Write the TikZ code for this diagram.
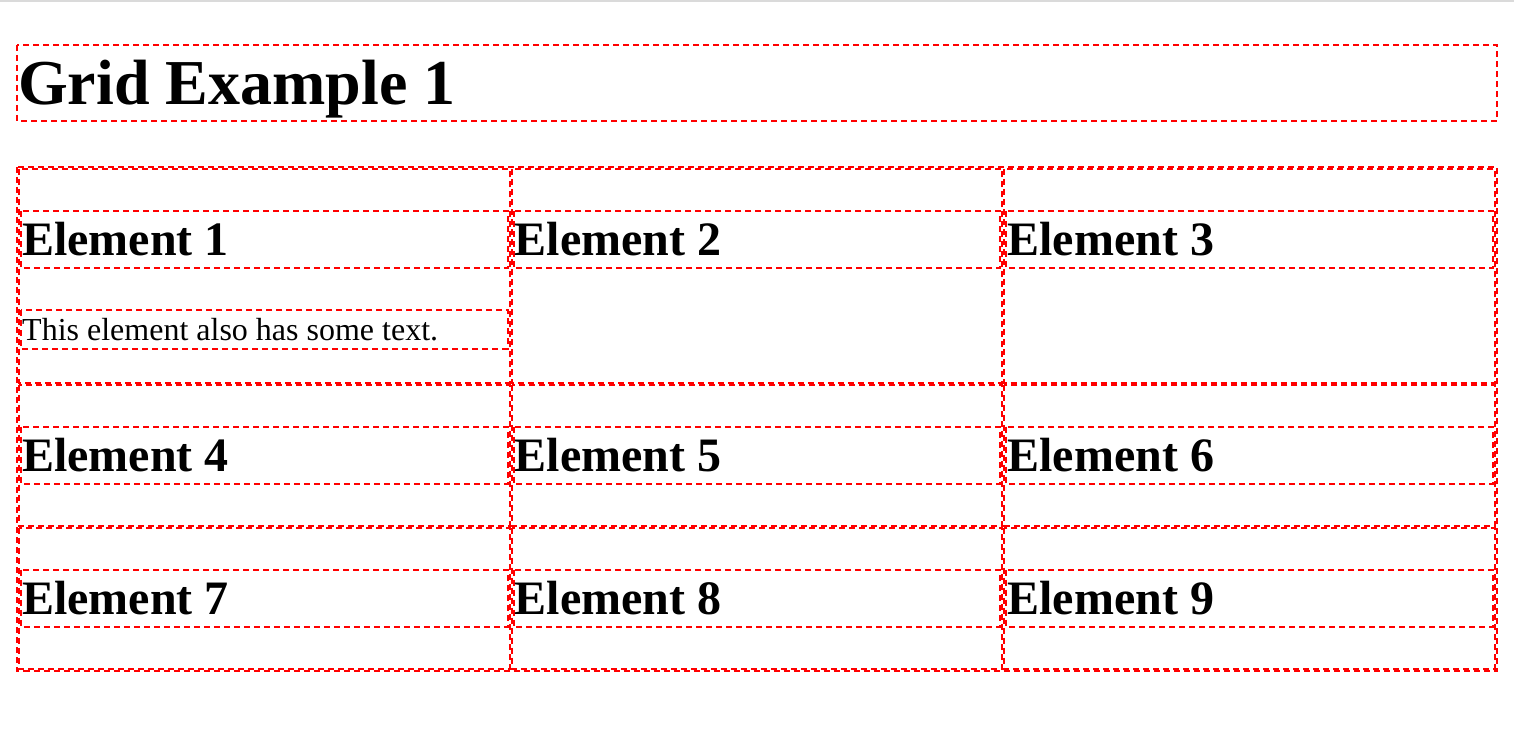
\documentclass[tikz,border=0pt]{standalone}
\usepackage{fontspec}
\setmainfont{Liberation Serif}
\definecolor{topgray}{RGB}{218,218,218}
\begin{document}
\begin{tikzpicture}[x=1pt,y=-1pt,
  brd/.style={draw=red,line width=2pt,dash pattern=on 6pt off 4pt},
  titletext/.style={anchor=base west,inner sep=0pt,font=\fontsize{64}{74}\selectfont\bfseries},
  htext/.style={anchor=base west,inner sep=0pt,font=\fontsize{48}{55}\selectfont\bfseries},
  ptext/.style={anchor=base west,inner sep=0pt,font=\fontsize{32}{37}\selectfont}]
\useasboundingbox (0,0) rectangle (1514,738);
\fill[topgray] (0,0) rectangle (1514,2);
% title
\draw[brd] (17,45) rectangle (1497,121);
\node[titletext] (title) at (18,104.4) {Grid Example 1};
% grid container
\draw[brd] (17,167) rectangle (1497,670.5);
\foreach \ya/\yb/\ha/\hb/\bl [count=\r] in {168/383.8/210/269.2/255.8, 383.8/526.6/425.6/484.8/471.4, 526.6/669.5/568.5/627.7/614.3}{
  \foreach \xa/\xb [count=\c] in {18/510.67, 510.67/1003.33, 1003.33/1496}{
    \pgfmathtruncatemacro{\n}{(\r-1)*3+\c}
    \draw[brd] (\xa+1,\ya+1) rectangle (\xb-1,\yb-1);
    \draw[brd] (\xa+3,\ha+1) rectangle (\xb-3,\hb-1);
    \node[htext] (e\n) at (\xa+4,\bl) {Element \n};
  }
}
% paragraph in element 1
\draw[brd] (21,310) rectangle (507.67,348.8);
\node[ptext] (ptext) at (22,340.2) {This element also has some text.};
\end{tikzpicture}
\end{document}
